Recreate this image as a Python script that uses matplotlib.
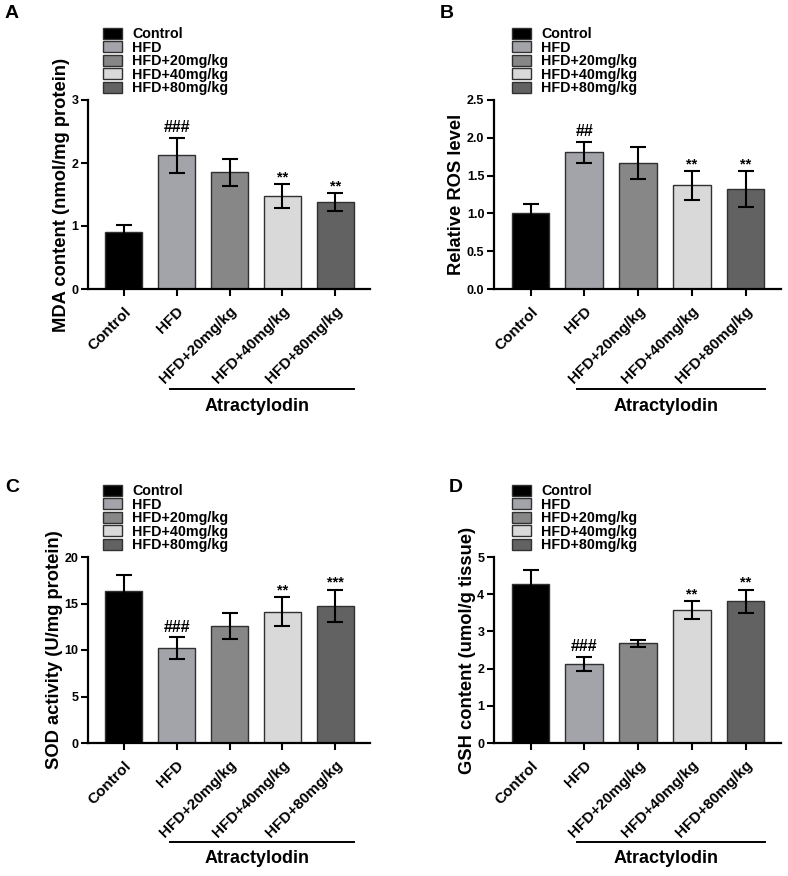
import matplotlib
matplotlib.use("Agg")
import matplotlib.pyplot as plt
from matplotlib.patches import Patch

plt.rcParams["font.family"] = ["Liberation Sans", "DejaVu Sans"]
plt.rcParams["font.weight"] = "bold"

W, H = 788, 876

groups = ["Control", "HFD", "HFD+20mg/kg", "HFD+40mg/kg", "HFD+80mg/kg"]
colors = ["#000000", "#a3a3aa", "#878787", "#d9d9d9", "#626262"]

mda_mean = [0.91, 2.12, 1.85, 1.47, 1.38]
mda_err = [0.11, 0.28, 0.21, 0.19, 0.14]
mda_sig = ["", "###", "", "**", "**"]

ros_mean = [1.00, 1.81, 1.67, 1.37, 1.32]
ros_err = [0.13, 0.14, 0.21, 0.19, 0.24]
ros_sig = ["", "##", "", "**", "**"]

sod_mean = [16.3, 10.2, 12.6, 14.1, 14.75]
sod_err = [1.8, 1.15, 1.4, 1.55, 1.75]
sod_sig = ["", "###", "", "**", "***"]

gsh_mean = [4.27, 2.13, 2.68, 3.57, 3.81]
gsh_err = [0.39, 0.19, 0.10, 0.24, 0.31]
gsh_sig = ["", "###", "", "**", "**"]

EDGE = "#303030"


def draw_panel(fig, rect, letter, letter_xy, means, errs, sig, ylim, yticks,
               yticklabels, ylabel):
    left, top, right, bottom = rect
    ax = fig.add_axes([left / W, 1 - bottom / H, (right - left) / W, (bottom - top) / H])
    x = range(len(groups))
    ax.bar(x, means, width=0.7, color=colors, edgecolor=EDGE, linewidth=1.0, zorder=2)
    ax.errorbar(x, means, yerr=errs, fmt="none", ecolor="black", elinewidth=1.5,
                capsize=6, capthick=1.5, zorder=3)
    span = ylim[1] - ylim[0]
    for i, s in enumerate(sig):
        if not s:
            continue
        size = 11.5 if s.startswith("#") else 10.5
        off = 0.015 if s.startswith("#") else 0.0
        ax.text(i, means[i] + errs[i] + span * off, s, ha="center", va="bottom",
                fontsize=size, fontweight="bold")
    ax.set_xlim(-0.68, 4.66)
    ax.set_ylim(*ylim)
    ax.set_yticks(yticks)
    ax.set_yticklabels(yticklabels, fontsize=9, fontweight="bold")
    ax.set_xticks(list(x))
    ax.set_xticklabels(groups, rotation=45, ha="right", rotation_mode="anchor",
                       fontsize=11, fontweight="bold")
    ax.tick_params(direction="out", width=1.5, length=5, pad=2)
    ax.tick_params(axis="x", pad=6)
    for side in ("top", "right"):
        ax.spines[side].set_visible(False)
    for side in ("left", "bottom"):
        ax.spines[side].set_linewidth(1.6)
    ax.set_ylabel(ylabel, fontsize=13.2, fontweight="bold", labelpad=1)

    handles = [Patch(facecolor=c, edgecolor=EDGE, linewidth=1.0) for c in colors]
    leg_x = (letter_xy[2] - left) / (right - left)
    leg_y = 1 + (top - letter_xy[3]) / (bottom - top)
    ax.legend(handles, groups, loc="upper left", bbox_to_anchor=(leg_x, leg_y),
              frameon=False, handlelength=1.35, handleheight=0.8,
              labelspacing=-0.03, handletextpad=0.7, borderpad=0, borderaxespad=0,
              prop={"weight": "bold", "size": 10.3})

    # Atractylodin bracket under the treated groups
    ax.plot([0.29, 0.943], [-0.53, -0.53], transform=ax.transAxes, color="black",
            linewidth=1.4, clip_on=False)
    ax.text(0.6, -0.575, "Atractylodin", transform=ax.transAxes, ha="center",
            va="top", fontsize=13, fontweight="bold")

    fig.text(letter_xy[0] / W, 1 - letter_xy[1] / H, letter, fontsize=14,
             fontweight="black", ha="center", va="center")
    return ax


fig = plt.figure(figsize=(W / 100, H / 100), dpi=100)

draw_panel(fig, (88, 100, 370, 289), "A", (12, 14, 103, 27),
           mda_mean, mda_err, mda_sig, (0, 3), [0, 1, 2, 3],
           ["0", "1", "2", "3"], "MDA content (nmol/mg protein)")
draw_panel(fig, (494, 100, 781, 289), "B", (447, 14, 512, 27),
           ros_mean, ros_err, ros_sig, (0, 2.5), [0, 0.5, 1.0, 1.5, 2.0, 2.5],
           ["0.0", "0.5", "1.0", "1.5", "2.0", "2.5"], "Relative ROS level")
draw_panel(fig, (88, 557, 370, 743), "C", (12, 488, 103, 484),
           sod_mean, sod_err, sod_sig, (0, 20), [0, 5, 10, 15, 20],
           ["0", "5", "10", "15", "20"], "SOD activity (U/mg protein)")
draw_panel(fig, (494, 557, 781, 743), "D", (456, 488, 512, 484),
           gsh_mean, gsh_err, gsh_sig, (0, 5), [0, 1, 2, 3, 4, 5],
           ["0", "1", "2", "3", "4", "5"], "GSH content (umol/g tissue)")

fig.savefig("out.png", dpi=100, facecolor="white")
